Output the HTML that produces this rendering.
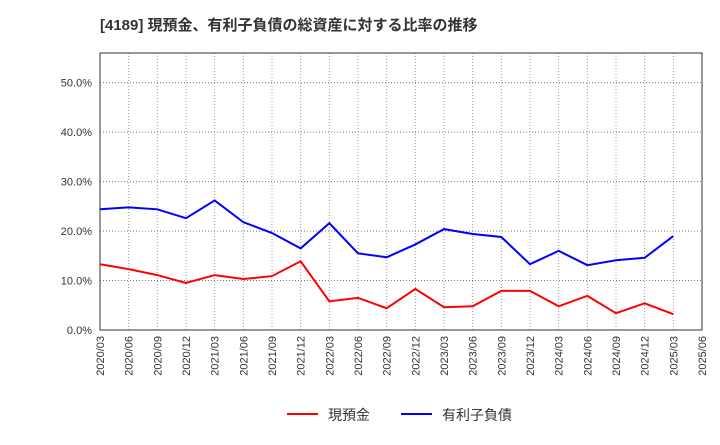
<!DOCTYPE html>
<html><head><meta charset="utf-8"><style>
body{margin:0;background:#fff;font-family:"Liberation Sans","Noto Sans CJK JP",sans-serif}
</style></head><body>
<svg id="c" width="720" height="440" xmlns="http://www.w3.org/2000/svg">
<text x="100" y="30" font-size="15" font-weight="bold" fill="#333" font-family="Liberation Sans, Noto Sans CJK JP, sans-serif">[4189]  現預金、有利子負債の総資産に対する比率の推移</text>
<g id="grid"></g><g id="axes"></g><g id="series"></g>
<g>
<line x1="287" y1="414" x2="318" y2="414" stroke="#f00" stroke-width="2"/>
<text x="328" y="420" font-size="14" fill="#333">現預金</text>
<line x1="401" y1="414" x2="432" y2="414" stroke="#00f" stroke-width="2"/>
<text x="442" y="420" font-size="14" fill="#333">有利子負債</text>
</g>
</svg>
<script>
const categories=["2020/03","2020/06","2020/09","2020/12","2021/03","2021/06","2021/09","2021/12","2022/03","2022/06","2022/09","2022/12","2023/03","2023/06","2023/09","2023/12","2024/03","2024/06","2024/09","2024/12","2025/03","2025/06"];
const cash=[13.3,12.3,11.1,9.5,11.1,10.3,10.9,13.9,5.8,6.5,4.4,8.3,4.6,4.8,7.9,7.9,4.8,6.9,3.4,5.4,3.2];
const debt=[24.4,24.8,24.4,22.6,26.2,21.8,19.6,16.5,21.6,15.5,14.7,17.3,20.4,19.4,18.8,13.3,16.0,13.1,14.1,14.6,19.0];
const yTicks=[0,10,20,30,40,50];
const L=100,R=702,T=53,B=330,yMax=56;
const ns="http://www.w3.org/2000/svg";
const xs=i=>L+i*(R-L)/(categories.length-1);
const ys=v=>B-v*(B-T)/yMax;
function mk(t,a,p){const e=document.createElementNS(ns,t);for(const k in a)e.setAttribute(k,a[k]);p.appendChild(e);return e;}
const g=document.getElementById('grid'),ax=document.getElementById('axes'),s=document.getElementById('series');
categories.forEach((c,i)=>{
 const l=mk('line',{x1:xs(i),x2:xs(i),y1:T,y2:B,stroke:'#999','stroke-dasharray':'1,2'},g);
 
 
 const t=mk('text',{x:0,y:0,'font-size':11,fill:'#333','text-anchor':'end',transform:`translate(${xs(i)+4},${B+6}) rotate(-90)`},ax);
 t.textContent=c;
 
 
});
yTicks.forEach(v=>{
 const l=mk('line',{x1:L,x2:R,y1:ys(v),y2:ys(v),stroke:'#777','stroke-dasharray':'1,2'},g);
 
 
 const t=mk('text',{x:L-8,y:ys(v)+4,'font-size':11,fill:'#333','text-anchor':'end'},ax);
 t.textContent=v.toFixed(1)+'%';
 
 
});
const f=mk('rect',{x:L,y:T,width:R-L,height:B-T,fill:'none',stroke:'#333'},ax);


const p1=mk('polyline',{points:cash.map((v,i)=>xs(i)+','+ys(v)).join(' '),fill:'none',stroke:'#f00','stroke-width':2},s);


const p2=mk('polyline',{points:debt.map((v,i)=>xs(i)+','+ys(v)).join(' '),fill:'none',stroke:'#00f','stroke-width':2},s);


</script>
</body></html>
